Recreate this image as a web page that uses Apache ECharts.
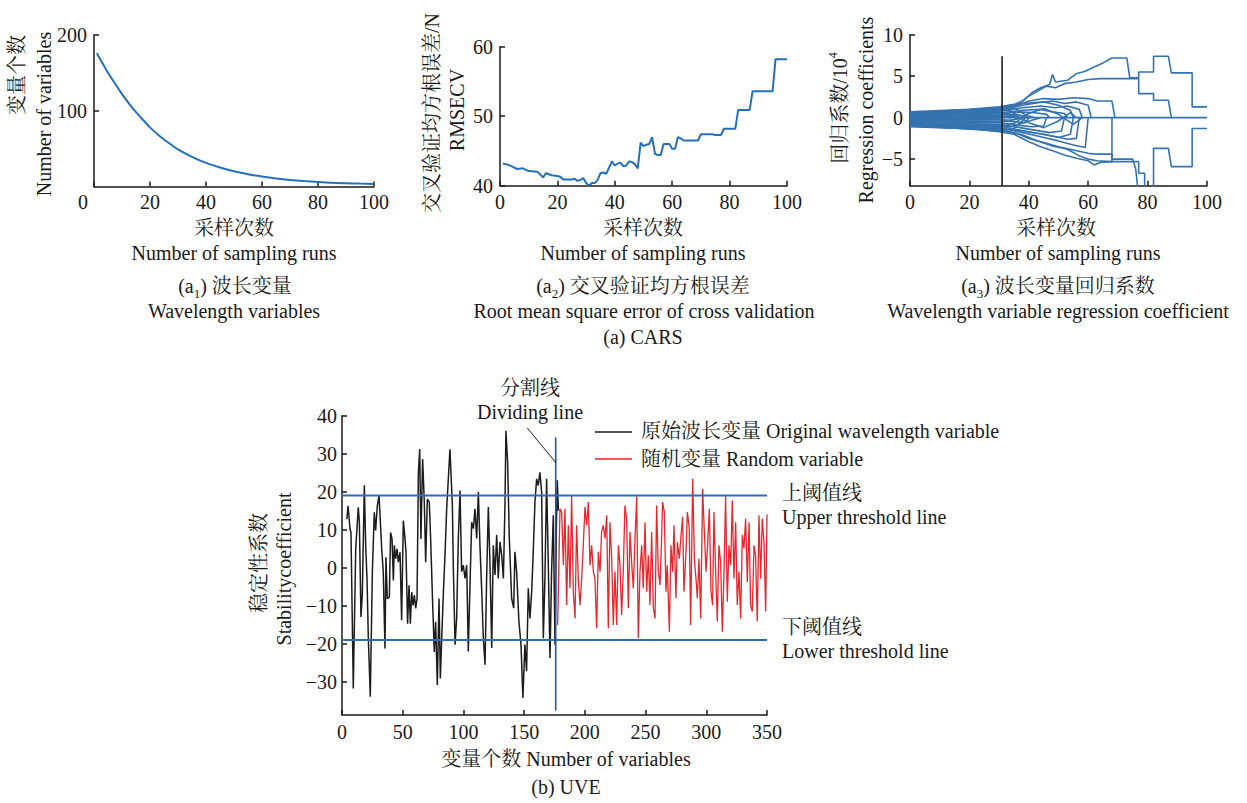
<!DOCTYPE html>
<html>
<head>
<meta charset="utf-8">
<title>CARS / UVE</title>
<script src="https://cdn.jsdelivr.net/npm/echarts@6/dist/echarts.min.js"></script>
<style>
  html, body { margin: 0; padding: 0; background: #fff; }
  #main { width: 1247px; height: 803px; }
</style>
</head>
<body>
<div id="main"></div>
<script>
// (a1) number of kept variables per sampling run
var a1Runs = [1, 3, 5, 8, 10, 13, 15, 18, 20, 23, 25, 28, 30, 35, 40, 45, 50, 55, 60, 65, 70, 75, 80, 85, 90, 95, 100];
var a1VarCount = [176, 163, 150, 133, 122, 107, 98, 86, 78, 68, 62, 54, 49, 39, 31, 25, 20, 16, 13, 10.5, 8.5, 7, 5.8, 4.8, 4.2, 3.7, 3.3];

// (a2) RMSECV per sampling run (repeated runs = vertical steps)
var a2Runs = [1, 3, 5, 6, 8, 10, 13, 14, 15, 16, 18, 20, 21, 22, 25, 26, 27, 28, 29, 30, 31, 32, 33, 34, 35, 36, 37, 38, 39, 40,
  41, 42, 43, 44, 45, 46, 47, 48, 49, 50, 51, 52, 53, 54, 55, 56, 57, 59, 60, 61, 62, 63, 64, 69, 70, 74, 75, 77, 78, 82, 83, 87, 88, 95, 96, 100];
var a2Rmsecv = [43.2, 43.0, 42.6, 42.4, 42.5, 42.1, 42.0, 41.6, 41.2, 41.8, 41.5, 41.4, 41.3, 40.9, 40.9, 41.0, 40.7, 40.8, 41.1, 40.4, 40.0, 40.4, 40.4, 40.8, 41.8, 41.9, 41.7, 42.6, 43.5, 42.9,
  43.2, 43.3, 42.8, 42.9, 43.5, 43.4, 43.1, 42.5, 46.2, 45.7, 45.9, 46.0, 47.0, 44.6, 44.4, 44.4, 46.0, 46.0, 45.3, 45.3, 47.0, 46.8, 46.5, 46.5, 47.4, 47.4, 47.3, 47.3, 48.2, 48.2, 50.9, 50.9, 53.6, 53.6, 58.2, 58.2];

// (a3) regression coefficient paths, [run, coefficient / 10^4]
var a3CoefPaths = [
  [[0,0.7],[10,0.85],[20,1.0],[30,1.3],[35,1.6],[38,2.0],[41,3.0],[44,3.6],[47,4.0],[48,5.2],[49,4.3],[53,4.5],[56,5.3],[59,5.6],[62,6.1],[65,6.6],[68,7.2],[73,7.2],[74,4.8],[77,4.8],[77,5.5],[82,5.5],[82,7.4],[87,7.4],[88,5.4],[95,5.4],[95,1.3],[100,1.3]],
  [[0,0.6],[20,0.9],[30,1.2],[36,1.5],[40,2.6],[43,3.2],[46,3.8],[49,3.6],[52,4.1],[56,4.3],[60,4.6],[64,4.7],[77,4.7],[77,2.9],[82,2.9],[82,2.1],[87,2.1],[88,0]],
  [[0,0.5],[30,1.05],[37,1.6],[40,2.0],[45,2.3],[50,2.2],[55,2.4],[60,2.3],[63,2.0],[68,2.0],[69,0]],
  [[0,0.42],[30,0.9],[38,1.5],[43,1.8],[48,2.0],[52,1.7],[56,1.9],[60,1.5],[61,0]],
  [[0,0.34],[30,0.8],[38,1.2],[44,1.4],[49,1.2],[53,1.4],[57,1.0],[58,0]],
  [[0,0.26],[30,0.6],[38,0.9],[44,1.0],[48,0.7],[52,0.5],[53,0]],
  [[0,0.18],[30,0.45],[37,0.7],[42,0.6],[46,0.4],[47,0]],
  [[0,0.1],[30,0.3],[36,0.4],[40,0]],
  [[0,0.02],[30,0.15],[34,0]],
  [[0,-0.1],[30,-0.05],[33,0.2],[36,0]],
  [[0,0.3],[30,0.5],[36,0.2],[40,-0.6],[45,-1.2],[50,-0.4],[54,0.6],[56,0]],
  [[0,-0.3],[30,-0.5],[36,-0.2],[40,0.5],[45,1.1],[50,0.4],[55,-0.8],[58,0]],
  [[0,0.62],[30,1.1],[34,0.8],[37,0]],
  [[0,0.45],[30,0.95],[35,1.2],[39,0.3],[42,0]],
  [[0,0.2],[30,0.7],[33,0.5],[36,0]],
  [[0,0.55],[30,1.2],[38,1.7],[45,1.9],[50,1.5],[54,0.9],[55,0]],
  [[0,-1.1],[10,-1.2],[20,-1.3],[30,-1.7],[35,-2.0],[40,-2.9],[44,-3.5],[48,-4.0],[52,-4.5],[56,-4.9],[60,-5.2],[62,-5.7],[64,-5.4],[68,-5.3],[77,-5.3],[77,-6.7],[79,-6.7],[79,-9.5],[82,-9.5],[82,-3.7],[87,-3.7],[88,-5.9],[95,-5.9],[95,-1.3],[100,-1.3]],
  [[0,-1.0],[30,-1.5],[36,-1.9],[40,-2.5],[45,-3.0],[50,-3.5],[55,-3.9],[60,-4.3],[63,-4.4],[68,-4.4],[68,-5.0],[75,-5.0],[76,-6.2],[77,-9.5]],
  [[0,-0.9],[30,-1.4],[38,-2.1],[43,-2.8],[48,-3.4],[53,-3.8],[57,-4.6],[60,-5.0],[63,-5.2],[68,-5.3],[68,0]],
  [[0,-0.8],[30,-1.2],[38,-1.8],[44,-2.3],[50,-2.8],[55,-3.3],[59,-3.6],[60,0]],
  [[0,-0.7],[30,-1.0],[37,-1.5],[43,-1.9],[48,-2.2],[53,-2.6],[56,-2.5],[57,0]],
  [[0,-0.6],[30,-0.8],[37,-1.2],[42,-1.5],[47,-1.8],[51,-1.6],[52,0]],
  [[0,-0.5],[30,-0.6],[36,-0.9],[41,-1.1],[45,-1.0],[46,0]],
  [[0,-0.38],[30,-0.4],[35,-0.5],[39,-0.6],[40,0]],
  [[0,-0.25],[30,-0.2],[34,-0.35],[37,0]],
  [[0,-0.95],[30,-1.6],[35,-1.3],[39,0]],
  [[0,-0.65],[30,-1.1],[35,-0.7],[38,0]],
  [[0,-0.45],[30,-0.9],[34,-1.1],[41,-0.3],[44,0]],
  [[0,-0.85],[30,-1.3],[38,-1.6],[45,-2.0],[50,-2.4],[54,-2.0],[55,0]],
  [[0,0],[100,0]]
];
var a3BestRun = 31;
var a3BestRunSpan = [-8.2, 7.4];

// (b) UVE stability coefficients, [variable index, coefficient]
var uveOriginal = [[4,12.8],[5,16.3],[6.6,10.2],[7.4,9.3],[9.3,-31.7],[11.3,5],[13.4,15.9],[14.3,12],[15.6,-12.9],[16.7,-7.2],[18.4,21.7],[19.5,5.9],[20.6,-2.9],[21.7,-18.6],[23.3,-33.9],[25,-1.1],[26.6,14.6],[27.7,9.8],[29.1,16.3],[30.5,19],[32.7,5],[34,-1.1],[35.4,-21.2],[36.2,2.8],[37.3,-8.1],[39,-7.7],[40,9.3],[41.2,7.6],[42.3,-3.3],[43.1,5.9],[44.2,2.4],[45.3,5],[46.4,1.5],[47.8,4.1],[49.1,-13.8],[50.5,12.4],[51.9,7.6],[52.7,4.1],[54,-14.7],[55.2,-4.6],[56.3,-14.7],[57.4,-6.4],[58.5,-9.9],[59.6,-7.2],[60.7,-10.7],[61.8,-8.1],[62.9,25],[64,31.2],[65,7.6],[66.4,28.6],[67.8,17.2],[68.9,1.5],[70.3,18.1],[71.9,17.2],[73,7.6],[74.7,-9.9],[76,-22.1],[77.1,-14.2],[78.5,-30.8],[79.9,-8.1],[81,-29.1],[82.1,-18.6],[83.4,-7.2],[84.8,3.2],[86.2,15.5],[88.9,31.2],[90.9,16.4],[91.7,-0.2],[93.1,-20.2],[94.4,-13.3],[95.8,7.7],[97.2,20.3],[98.5,-1],[99.9,0.7],[101.3,-2.8],[102.7,0.7],[104,-22],[105.4,-4.5],[106.8,12],[108.2,10.3],[109.5,15.5],[110.9,7.7],[112.3,19.9],[113.6,5.9],[115,-5.4],[116.4,-18.5],[117.8,-25.5],[119.1,-2.8],[120.5,16],[121.9,0.7],[123.3,-21.1],[124.6,5.9],[126,-1.9],[127.4,8.6],[128.7,-2.8],[130.1,6.8],[131.5,3.3],[132.9,-2.8],[134.2,16.4],[135,36],[136.4,27.7],[137.8,7.7],[139.7,-8],[141.4,-10.6],[142.4,4.2],[143.8,-1],[145.7,-14.1],[147.4,-20.2],[149,-34.2],[150.6,-20.2],[152,-27.2],[153.4,-5.4],[154.8,-13.3],[156.2,-6.3],[157.5,4.2],[158.9,17.3],[160.3,23.4],[161.6,21.6],[163,25.1],[164.4,19.9],[165.8,-18.5],[167.1,-2.8],[168.5,23.4],[169.9,0.7],[171.3,-23.7],[172.6,-1],[174,13.8],[175.4,-20.2],[176.5,10],[177.3,23],[178.2,15]];
var uveRandom = [[177.6,-15],[179.5,15.5],[180.9,14.7],[182.3,0.7],[183.6,15.5],[185,-9.8],[186.4,11.2],[187.8,-5.4],[189.1,19],[190.5,-6.3],[191.9,-13.3],[193.2,11.2],[194.6,-2.8],[196,-9.8],[197.4,-2.8],[198.7,5.9],[200.1,16],[201.5,11.2],[202.9,17.3],[204.2,0.7],[205.6,5.9],[207,-1],[208.3,-2.8],[209.7,-15.9],[211.1,4.2],[212.5,-1],[213.8,9.4],[215.2,11.2],[216.6,7.7],[218,13.8],[219.3,-15.9],[220.7,12],[222.1,2.4],[223.4,-15],[224.8,-1],[226.2,-15],[227.6,5.9],[228.9,0.7],[230.3,-12.4],[231.7,-0.2],[233,16.4],[234.4,12.9],[235.8,-10.6],[237.2,9.4],[238.5,1.6],[239.9,-5.4],[241.3,7.7],[242.7,18.8],[244,-18.5],[245.4,-1],[246.8,5.9],[248.1,-5.4],[249.5,12],[250.9,-6.3],[252.3,3.3],[253.6,-9.8],[255,9.4],[256.4,-10.6],[257.8,-13.3],[259.1,16.4],[260.5,-1],[261.9,-4.5],[263.2,7.7],[264,17.3],[265.4,14.7],[266.8,-6.3],[267.9,0.7],[269.6,-16.8],[270.9,5.9],[272.3,-1],[273.4,11.2],[275,-8],[276.2,6.8],[277.8,2.4],[279,7.7],[280.5,13.4],[281.6,-6.3],[283.3,4.2],[284.4,14.7],[286,10.3],[287.1,-15],[288.8,23.4],[290.2,2.4],[291.5,-2.8],[292.6,-8],[294,2.4],[295.4,-13.3],[297,20.8],[298.4,9.4],[299.8,-1],[301.1,5.9],[302.5,15.5],[303.9,-6.3],[305.2,-9.8],[306.3,14.7],[307.7,-1],[309.1,-14.1],[310.4,5.9],[311.8,1.6],[313.2,-16.8],[314.6,-1],[315.9,19],[317.3,-8.9],[318.7,5.9],[320.1,0.7],[321.4,17.7],[322.8,-2.8],[324.2,12],[325.5,-9.8],[326.9,-1],[328.3,-13.3],[329.7,8.6],[331,5.1],[332.4,12.9],[333.8,-3.7],[335.2,12],[336.5,-9.8],[337.9,-11.5],[339.3,5.9],[340.6,3.3],[342,-14.1],[343.4,13.8],[344.8,-2.8],[346.1,12.9],[347.5,6.8],[348.9,-11.5],[350,14]];
var uveThreshold = 19;
var uveDividingVar = 176;
var uveDividingSpan = [-37.5, 34.3];
var uveLeader = [[152.5, 36.8], [176, 27.7]];

var uveYTicks = [-30, -20, -10, 0, 10, 20, 30, 40];
var a3YTicks = [-5, 0, 5, 10];

var FONT = "'Liberation Serif','Noto Serif CJK SC','Noto Sans CJK SC',serif";
var TXT = '#1a1a1a';
var AX = '#1a1a1a';
var BLUE = '#2370bd';
var PATH_BLUE = '#3573b0';

function minus(v) { return String(v).replace('-', '\u2212'); }

function xAx(grid, min, max, interval, extra) {
  return Object.assign({
    type: 'value', gridIndex: grid, min: min, max: max, interval: interval,
    axisLine: { show: true, onZero: false, lineStyle: { color: AX, width: 1.5 } },
    axisTick: { show: true, inside: true, length: 5, lineStyle: { color: AX, width: 1.5 } },
    axisLabel: { color: TXT, fontSize: 20, fontFamily: FONT, margin: 6 },
    splitLine: { show: false }
  }, extra || {});
}
function yAx(grid, min, max, interval, extra) {
  var a = xAx(grid, min, max, interval, extra);
  a.axisLabel = Object.assign({ color: TXT, fontSize: 20, fontFamily: FONT, margin: 7, formatter: minus }, (extra && extra.axisLabel) || {});
  return a;
}

var grids = [
  { left: 94, top: 35, width: 280, height: 151.4 },
  { left: 500, top: 46.7, width: 287, height: 139 },
  { left: 910, top: 34.7, width: 297, height: 151 },
  { left: 342, top: 415.7, width: 425, height: 299.3 }
].map(function (g) { return Object.assign({ containLabel: false, outerBoundsMode: 'none' }, g); });

var xAxes = [
  xAx(0, 0, 100, 20, { axisLabel: { color: TXT, fontSize: 20, fontFamily: FONT, margin: 6,
    formatter: function (v) { return v === 0 ? '{z|0}' : String(v); },
    rich: { z: { fontSize: 20, fontFamily: FONT, color: TXT, padding: [0, 22, 0, 0] } } } }),
  xAx(1, 0, 100, 20),
  xAx(2, 0, 100, 20),
  xAx(3, 0, 350, 50, { axisLabel: { color: TXT, fontSize: 20, fontFamily: FONT, margin: 7 } })
];
var yAxes = [
  yAx(0, 0, 200, 100, { axisLabel: { showMinLabel: false } }),
  yAx(1, 40, 60, 10),
  yAx(2, -8.2, 10, null, { axisLabel: { customValues: a3YTicks }, axisTick: { show: true, inside: true, length: 5, customValues: a3YTicks, lineStyle: { color: AX, width: 1.5 } } }),
  yAx(3, -38.7, 40, null, { axisLabel: { customValues: uveYTicks, margin: 5 }, axisTick: { show: true, inside: true, length: 5, customValues: uveYTicks, lineStyle: { color: AX, width: 1.5 } } })
];

function line(xi, data, color, width, extra) {
  return Object.assign({
    type: 'line', xAxisIndex: xi, yAxisIndex: xi, data: data, showSymbol: false, symbol: 'none',
    lineStyle: { color: color, width: width }, silent: true, clip: true
  }, extra || {});
}

var series = [];
series.push(line(0, a1Runs.map(function (r, i) { return [r, a1VarCount[i]]; }), BLUE, 2, { smooth: 0.3 }));
series.push(line(1, a2Runs.map(function (r, i) { return [r, a2Rmsecv[i]]; }), BLUE, 2));
a3CoefPaths.forEach(function (p) { series.push(line(2, p, PATH_BLUE, 1.6)); });
series.push(line(2, [[a3BestRun, a3BestRunSpan[0]], [a3BestRun, a3BestRunSpan[1]]], '#222', 1.6));
series.push(line(3, uveOriginal, '#1c1c1c', 1.5));
series.push(line(3, uveRandom, '#e8262b', 1.3));
series.push(line(3, [[0, uveThreshold], [350, uveThreshold]], '#2c6db5', 2));
series.push(line(3, [[0, -uveThreshold], [350, -uveThreshold]], '#2c6db5', 2));
series.push(line(3, [[uveDividingVar, uveDividingSpan[0]], [uveDividingVar, uveDividingSpan[1]]], '#2652b0', 1.6));
series.push(line(3, uveLeader, '#1a1a1a', 1));

var RICH = {
  s: { fontSize: 13, fontFamily: FONT, fill: TXT, verticalAlign: 'bottom', lineHeight: 28 },
  p: { fontSize: 12, fontFamily: FONT, fill: TXT, verticalAlign: 'top', lineHeight: 26 }
};
function txt(x, y, text, opt) {
  opt = opt || {};
  return {
    type: 'text', x: x, y: y, rotation: opt.rot || 0, silent: true,
    style: { text: text, fill: TXT, fontSize: opt.size || 20, fontFamily: FONT,
      align: opt.align || 'center', verticalAlign: 'middle', rich: RICH }
  };
}
var R = Math.PI / 2;
var graphics = [
  // a1
  txt(17, 75, '变量个数', { rot: R }),
  txt(44, 114, 'Number of variables', { rot: R }),
  txt(234, 228, '采样次数'),
  txt(234, 253, 'Number of sampling runs'),
  txt(235, 286, '(a{s|1}) 波长变量'),
  txt(234, 311, 'Wavelength variables'),
  // a2
  txt(432, 113, '交叉验证均方根误差/N', { rot: R }),
  txt(457, 110, 'RMSECV', { rot: R }),
  txt(643, 228, '采样次数'),
  txt(643, 253, 'Number of sampling runs'),
  txt(643, 286, '(a{s|2}) 交叉验证均方根误差'),
  txt(644, 311, 'Root mean square error of cross validation'),
  txt(643, 337, '(a) CARS'),
  // a3
  txt(840, 108, '回归系数/10{p|4}', { rot: R }),
  txt(866, 110, 'Regression coefficients', { rot: R }),
  txt(1056, 228, '采样次数'),
  txt(1058, 253, 'Number of sampling runs'),
  txt(1058, 286, '(a{s|3}) 波长变量回归系数'),
  txt(1058, 311, 'Wavelength variable regression coefficient'),
  // b
  txt(259, 563, '稳定性系数', { rot: R }),
  txt(284, 569, 'Stabilitycoefficient', { rot: R }),
  txt(566, 759, '变量个数 Number of variables'),
  txt(566, 787, '(b) UVE'),
  txt(530, 388, '分割线'),
  txt(530, 412, 'Dividing line'),
  { type: 'line', silent: true, shape: { x1: 595, y1: 432, x2: 632, y2: 432 }, style: { stroke: '#1c1c1c', lineWidth: 1.5 } },
  { type: 'line', silent: true, shape: { x1: 595, y1: 459, x2: 632, y2: 459 }, style: { stroke: '#e8262b', lineWidth: 1.5 } },
  txt(641, 431, '原始波长变量 Original wavelength variable', { align: 'left' }),
  txt(641, 459, '随机变量 Random variable', { align: 'left' }),
  txt(782, 493, '上阈值线', { align: 'left' }),
  txt(782, 517, 'Upper threshold line', { align: 'left' }),
  txt(782, 627, '下阈值线', { align: 'left' }),
  txt(782, 651, 'Lower threshold line', { align: 'left' })
];

var chart = echarts.init(document.getElementById('main'), null, { renderer: 'svg' });
chart.setOption({
  animation: false,
  backgroundColor: '#ffffff',
  grid: grids,
  xAxis: xAxes,
  yAxis: yAxes,
  series: series,
  graphic: graphics
});
</script>
</body>
</html>
